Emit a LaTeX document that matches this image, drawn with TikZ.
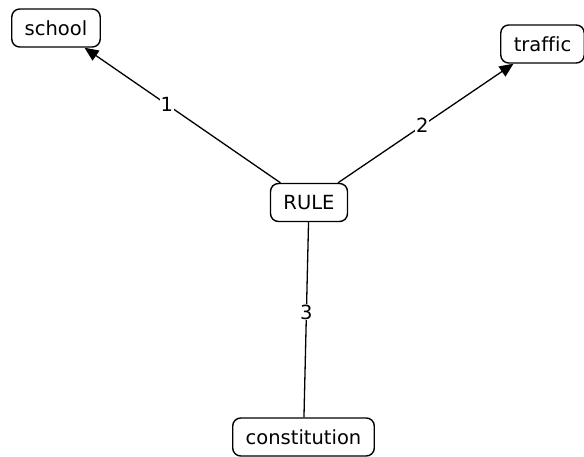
\documentclass[tikz,border=0pt]{standalone}
\usepackage{fontspec}
\setmainfont[Ligatures=NoCommon]{DejaVu Sans}
\usetikzlibrary{arrows.meta}

\begin{document}
\begin{tikzpicture}[x=1pt,y=-1pt,
    concept/.style={draw,rounded corners=8pt,line width=1.4pt,inner xsep=13pt,
      minimum height=38pt,font=\fontsize{19.5}{22}\selectfont},
    link/.style={line width=1.3pt},
    linklabel/.style={fill=white,inner sep=1pt,font=\fontsize{19.5}{22}\selectfont}]
    \useasboundingbox (0,0) rectangle (584,457);

    % concepts
    \node[concept] (rule) at (309,202.5) {RULE};
    \node[concept] (school) at (56,28) {school};
    \node[concept] (traffic) at (542.5,44) {traffic};
    \node[concept] (constitution) at (303.5,437) {constitution};

    % links
    \draw[link,-{Triangle[length=14pt,width=12pt]}]
      (rule) -- node[linklabel,pos=0.58] {1} (school);
    \draw[link,-{Triangle[length=14pt,width=12pt]}]
      (rule) -- node[linklabel,pos=0.48] {2} (traffic);
    \draw[link]
      (rule) -- node[linklabel,pos=0.46] {3} (constitution);
\end{tikzpicture}
\end{document}
